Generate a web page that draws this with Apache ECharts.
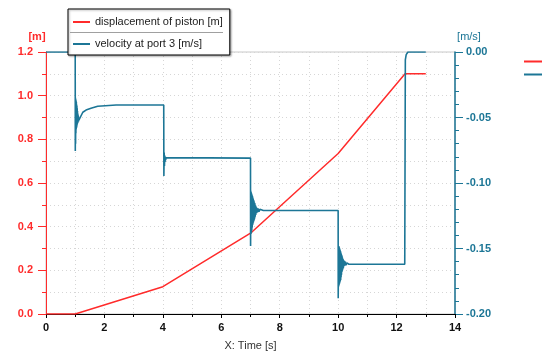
<!DOCTYPE html>
<html>
<head>
<meta charset="utf-8">
<script src="https://cdn.jsdelivr.net/npm/echarts@6/dist/echarts.min.js"></script>
<style>
  html, body { margin: 0; padding: 0; background: #fff; }
  #chart { width: 542px; height: 355px; }
</style>
</head>
<body>
<div id="chart"></div>
<script>
// 位移 [t, m]
const displacement = [
  [0, 0], [1, 0], [4, 0.125], [7, 0.37], [10, 0.735], [12.29, 1.1], [13, 1.1]
];

// 速度 [t, m/s]
const velocity = [
  [0, 0], [1.0, 0],
  [1.003, -0.0755], [1.008, -0.035], [1.013, -0.070], [1.018, -0.036], [1.023, -0.062],
  [1.028, -0.037], [1.033, -0.059], [1.038, -0.038], [1.043, -0.058], [1.048, -0.040],
  [1.053, -0.057], [1.058, -0.041], [1.063, -0.056], [1.068, -0.043], [1.073, -0.055],
  [1.078, -0.045], [1.083, -0.054], [1.088, -0.047], [1.093, -0.054], [1.098, -0.048],
  [1.103, -0.053], [1.108, -0.049], [1.113, -0.053], [1.118, -0.050], [1.125, -0.052],
  [1.14, -0.0506], [1.26, -0.046], [1.37, -0.0443], [1.54, -0.043], [1.77, -0.0414],
  [2.03, -0.041], [2.4, -0.0405], [4.03, -0.0405],
  [4.035, -0.0946], [4.045, -0.0768], [4.055, -0.087], [4.065, -0.079], [4.075, -0.084],
  [4.085, -0.080], [4.095, -0.0825], [4.11, -0.0806], [4.13, -0.0815], [4.16, -0.081],
  [7.0, -0.081],
  [7.003, -0.148], [7.01, -0.106], [7.017, -0.139], [7.024, -0.107], [7.031, -0.138],
  [7.038, -0.108], [7.045, -0.136], [7.052, -0.109], [7.059, -0.134], [7.066, -0.110],
  [7.073, -0.132], [7.08, -0.111], [7.087, -0.131], [7.094, -0.112], [7.101, -0.130],
  [7.108, -0.113], [7.115, -0.129], [7.122, -0.114], [7.129, -0.128], [7.136, -0.115],
  [7.143, -0.127], [7.15, -0.1155], [7.16, -0.1257], [7.17, -0.117], [7.18, -0.1245],
  [7.19, -0.118], [7.205, -0.123], [7.22, -0.119], [7.24, -0.1225], [7.26, -0.1195],
  [7.29, -0.122], [7.32, -0.120], [7.36, -0.1215], [7.44, -0.121],
  [10.0, -0.121],
  [10.003, -0.188], [10.01, -0.148], [10.017, -0.179], [10.024, -0.148], [10.031, -0.178],
  [10.038, -0.149], [10.045, -0.177], [10.052, -0.150], [10.059, -0.176], [10.066, -0.151],
  [10.073, -0.175], [10.08, -0.152], [10.087, -0.174], [10.094, -0.153], [10.101, -0.172],
  [10.108, -0.154], [10.115, -0.170], [10.122, -0.155], [10.129, -0.168], [10.136, -0.156],
  [10.143, -0.167], [10.15, -0.157], [10.158, -0.166], [10.168, -0.158], [10.178, -0.165],
  [10.188, -0.159], [10.198, -0.1635], [10.213, -0.1595], [10.228, -0.163], [10.248, -0.160],
  [10.268, -0.1628], [10.298, -0.161], [10.328, -0.1625], [10.37, -0.162],
  [12.28, -0.162], [12.30, -0.006], [12.33, -0.002], [12.39, 0], [13.0, 0]
];

const seriesNames = ['displacement of piston [m]', 'velocity at port 3 [m/s]'];
const xTicks = [0, 14, 2];
const leftTicks = [0, 1.2, 0.2];
const rightTicks = [-0.2, 0, 0.05];

const RED = '#ff2b2b';
const BLUE = '#1c7696';
const FONT = 'Liberation Sans';

const myChart = echarts.init(document.getElementById('chart'));

const option = {
    animation: false,
    textStyle: { fontFamily: FONT },
    grid: {
        left: 46,
        right: 87,
        top: 52,
        bottom: 41,
        outerBoundsMode: 'none',
        show: true,
        borderColor: '#c8c8c8',
        borderWidth: 1
    },
    legend: [
        {
            data: seriesNames,
            orient: 'vertical',
            left: 68,
            top: 9,
            padding: [6, 7, 4, 5],
            itemGap: 8,
            itemWidth: 17,
            itemHeight: 2,
            icon: 'rect',
            backgroundColor: '#fff',
            borderColor: '#000',
            borderWidth: 1,
            shadowColor: 'rgba(0,0,0,0.35)',
            shadowBlur: 2,
            shadowOffsetX: 1,
            shadowOffsetY: 1,
            textStyle: { fontFamily: FONT, fontSize: 11, color: '#222', lineHeight: 14 }
        },
        {
            data: seriesNames,
            orient: 'vertical',
            left: 524,
            top: 56,
            padding: 0,
            itemGap: 2,
            itemWidth: 18,
            itemHeight: 2,
            icon: 'rect',
            textStyle: { fontFamily: FONT, fontSize: 11, lineHeight: 11 }
        }
    ],
    graphic: [
        {
            type: 'line',
            z: 100,
            shape: { x1: 70, y1: 32.5, x2: 223, y2: 32.5 },
            style: { stroke: '#a0a0a0', lineWidth: 1 }
        }
    ],
    xAxis: {
        type: 'value',
        min: xTicks[0],
        max: xTicks[1],
        interval: xTicks[2],
        name: 'X: Time [s]',
        nameLocation: 'middle',
        nameGap: 26,
        nameTextStyle: { fontFamily: FONT, fontSize: 11, color: '#333' },
        axisLine: { lineStyle: { color: '#000', width: 1 } },
        axisTick: { length: 4, lineStyle: { color: '#000' } },
        minorTick: { show: true, splitNumber: 2, length: 3, lineStyle: { color: '#000' } },
        axisLabel: { fontFamily: FONT, fontSize: 11, fontWeight: 'bold', color: '#111', margin: 8 },
        splitLine: { show: true, lineStyle: { color: '#d6d6d6', type: [1, 3] } },
        minorSplitLine: { show: true, lineStyle: { color: '#d6d6d6', type: [1, 3] } }
    },
    yAxis: [
        {
            type: 'value',
            position: 'left',
            min: leftTicks[0],
            max: leftTicks[1],
            interval: leftTicks[2],
            name: '[m]',
            nameLocation: 'end',
            nameGap: 10,
            nameTextStyle: { fontFamily: FONT, fontSize: 11, fontWeight: 'bold', color: RED, align: 'center', padding: [0, 18, 0, 0] },
            axisLine: { show: true, lineStyle: { color: RED, width: 1 } },
            axisTick: { show: true, length: 8, lineStyle: { color: RED } },
            minorTick: { show: true, splitNumber: 2, length: 4, lineStyle: { color: RED } },
            axisLabel: { fontFamily: FONT, fontSize: 11, fontWeight: 'bold', color: RED, margin: 13, formatter: v => v.toFixed(1) },
            splitLine: { show: true, lineStyle: { color: '#d6d6d6', type: [1, 3] } },
            minorSplitLine: { show: true, lineStyle: { color: '#d6d6d6', type: [1, 3] } }
        },
        {
            type: 'value',
            position: 'right',
            min: rightTicks[0],
            max: rightTicks[1],
            interval: rightTicks[2],
            name: '[m/s]',
            nameLocation: 'end',
            nameGap: 10,
            nameTextStyle: { fontFamily: FONT, fontSize: 11, color: BLUE, align: 'center', padding: [0, 0, 0, 28] },
            axisLine: { show: true, lineStyle: { color: BLUE, width: 1.5 } },
            axisTick: { show: true, length: 8, lineStyle: { color: BLUE } },
            minorTick: { show: true, splitNumber: 5, length: 4, lineStyle: { color: BLUE } },
            axisLabel: { fontFamily: FONT, fontSize: 11, fontWeight: 'bold', color: BLUE, margin: 11, formatter: v => v.toFixed(2) },
            splitLine: { show: false }
        }
    ],
    series: [
        {
            name: seriesNames[0],
            type: 'line',
            yAxisIndex: 0,
            data: displacement,
            showSymbol: false,
            color: RED,
            lineStyle: { color: RED, width: 1.5 }
        },
        {
            name: seriesNames[1],
            type: 'line',
            yAxisIndex: 1,
            data: velocity,
            showSymbol: false,
            color: BLUE,
            lineStyle: { color: BLUE, width: 1.6 }
        }
    ]
};

option && myChart.setOption(option);
</script>
</body>
</html>
